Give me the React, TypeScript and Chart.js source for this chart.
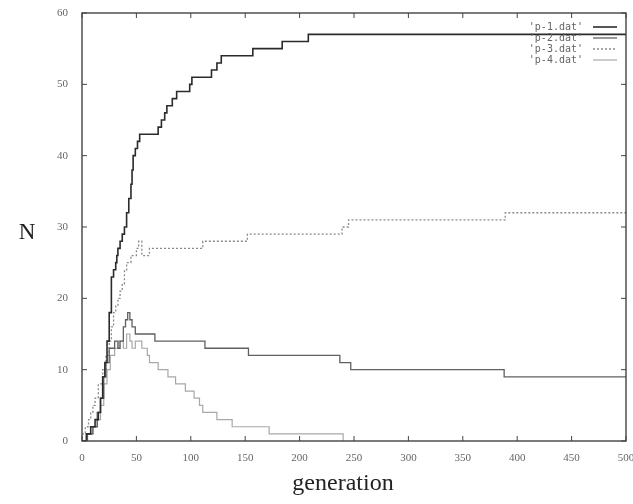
import React, { useEffect, useRef } from "react";
import { Chart, registerables } from "chart.js";

Chart.register(...registerables);

const seriesLabels = ["'p-1.dat'", "'p-2.dat'", "'p-3.dat'", "'p-4.dat'"];

const p1Gen = [0, 4, 8, 12, 15, 17, 19, 21, 23, 25, 27, 29, 31, 32, 33, 35, 37, 39, 41, 43, 45, 46, 47, 49, 51, 53, 70, 73, 76, 78, 83, 87, 99, 101, 119, 124, 128, 157, 184, 208, 500];
const p1N = [0, 1, 2, 3, 4, 6, 9, 11, 14, 18, 23, 24, 25, 26, 27, 28, 29, 30, 32, 34, 36, 38, 40, 41, 42, 43, 44, 45, 46, 47, 48, 49, 50, 51, 52, 53, 54, 55, 56, 57, 57];

const p2Gen = [0, 5, 10, 14, 17, 20, 22, 25, 30, 33, 35, 38, 40, 42, 44, 46, 49, 67, 113, 153, 237, 247, 388, 500];
const p2N = [0, 1, 2, 4, 6, 9, 11, 13, 14, 13, 14, 16, 17, 18, 17, 16, 15, 14, 13, 12, 11, 10, 9, 9];

const p3Gen = [0, 3, 6, 8, 10, 12, 15, 19, 22, 25, 27, 29, 31, 33, 35, 37, 39, 41, 45, 50, 52, 55, 62, 111, 152, 239, 245, 389, 500];
const p3N = [1, 2, 3, 4, 5, 6, 8, 10, 12, 14, 16, 18, 19, 20, 21, 22, 24, 25, 26, 27, 28, 26, 27, 28, 29, 30, 31, 32, 32];

const p4Gen = [0, 5, 10, 14, 17, 20, 23, 26, 30, 34, 38, 41, 44, 46, 49, 55, 60, 62, 70, 79, 86, 95, 103, 108, 111, 124, 138, 172, 240];
const p4N = [0, 1, 2, 3, 5, 8, 10, 12, 13, 14, 13, 15, 14, 13, 14, 13, 12, 11, 10, 9, 8, 7, 6, 5, 4, 3, 2, 1, 0];

const xTitle = "generation";
const yTitle = "N";

const zip = (xs: number[], ys: number[]) => xs.map((x, i) => ({ x, y: ys[i] }));

const framePlugin = {
  id: "gnuFrame",
  afterDraw(chart: any) {
    const ctx = chart.ctx;
    const { left, right, top, bottom } = chart.chartArea;
    const xs = chart.scales.x;
    const ys = chart.scales.y;
    ctx.save();
    ctx.strokeStyle = "#444";
    ctx.lineWidth = 1.4;
    ctx.strokeRect(left, top, right - left, bottom - top);
    ctx.lineWidth = 1;
    const tl = 5;
    xs.ticks.forEach((t: any) => {
      const px = xs.getPixelForValue(t.value);
      ctx.beginPath();
      ctx.moveTo(px, bottom);
      ctx.lineTo(px, bottom - tl);
      ctx.moveTo(px, top);
      ctx.lineTo(px, top + tl);
      ctx.stroke();
    });
    ys.ticks.forEach((t: any) => {
      const py = ys.getPixelForValue(t.value);
      ctx.beginPath();
      ctx.moveTo(left, py);
      ctx.lineTo(left + tl, py);
      ctx.moveTo(right, py);
      ctx.lineTo(right - tl, py);
      ctx.stroke();
    });
    // axis titles
    ctx.fillStyle = "#222";
    ctx.font = "24px 'Liberation Serif'";
    ctx.textAlign = "center";
    ctx.textBaseline = "middle";
    ctx.fillText(xTitle, 343, 484);
    ctx.font = "23px 'Liberation Serif'";
    ctx.fillText(yTitle, 27, 233);
    // legend
    ctx.font = "10px 'DejaVu Sans Mono'";
    ctx.textAlign = "right";
    chart.data.datasets.forEach((ds: any, i: number) => {
      const y = 27 + i * 11;
      ctx.fillStyle = "#666";
      ctx.fillText(ds.label, 583, y);
      ctx.beginPath();
      ctx.strokeStyle = ds.borderColor;
      ctx.lineWidth = ds.borderWidth;
      ctx.setLineDash(ds.borderDash || []);
      ctx.moveTo(593, y);
      ctx.lineTo(617, y);
      ctx.stroke();
      ctx.setLineDash([]);
    });
    ctx.restore();
  },
};

export default function App() {
  const ref = useRef<HTMLCanvasElement | null>(null);
  useEffect(() => {
    if (!ref.current) return;
    const chart = new Chart(ref.current, {
      type: "line",
      data: {
        datasets: [
          { label: seriesLabels[0], data: zip(p1Gen, p1N), borderColor: "#2b2b2b", borderWidth: 1.6, stepped: true, pointRadius: 0, fill: false },
          { label: seriesLabels[1], data: zip(p2Gen, p2N), borderColor: "#606060", borderWidth: 1.3, stepped: true, pointRadius: 0, fill: false },
          { label: seriesLabels[2], data: zip(p3Gen, p3N), borderColor: "#8a8a8a", borderWidth: 1.3, borderDash: [2, 2], stepped: true, pointRadius: 0, fill: false },
          { label: seriesLabels[3], data: zip(p4Gen, p4N), borderColor: "#a8a8a8", borderWidth: 1.2, stepped: true, pointRadius: 0, fill: false },
        ],
      },
      options: {
        animation: false,
        responsive: true,
        maintainAspectRatio: false,
        layout: { padding: { left: 0, right: 7, top: 13, bottom: 0 } },
        plugins: { legend: { display: false }, tooltip: { enabled: false } },
        scales: {
          x: {
            type: "linear",
            min: 0,
            max: 500,
            grid: { display: false, drawTicks: false },
            border: { display: false },
            ticks: { stepSize: 50, padding: 11, color: "#666", font: { family: "'Liberation Serif'", size: 11 }, maxRotation: 0 },
            afterFit: (s: any) => {
              s.height = 63;
              s.paddingLeft = 0;
              s.paddingRight = 0;
            },
          },
          y: {
            type: "linear",
            min: 0,
            max: 60,
            grid: { display: false, drawTicks: false },
            border: { display: false },
            ticks: { stepSize: 10, padding: 14, color: "#666", font: { family: "'Liberation Serif'", size: 11 } },
            afterFit: (s: any) => {
              s.width = 82;
              s.paddingTop = 0;
              s.paddingBottom = 0;
            },
          },
        },
      },
      plugins: [framePlugin],
    });
    return () => chart.destroy();
  }, []);
  return (
    <div style={{ position: "fixed", left: 0, top: 0, width: 633, height: 504, background: "#fff" }}>
      <canvas ref={ref} />
    </div>
  );
}
